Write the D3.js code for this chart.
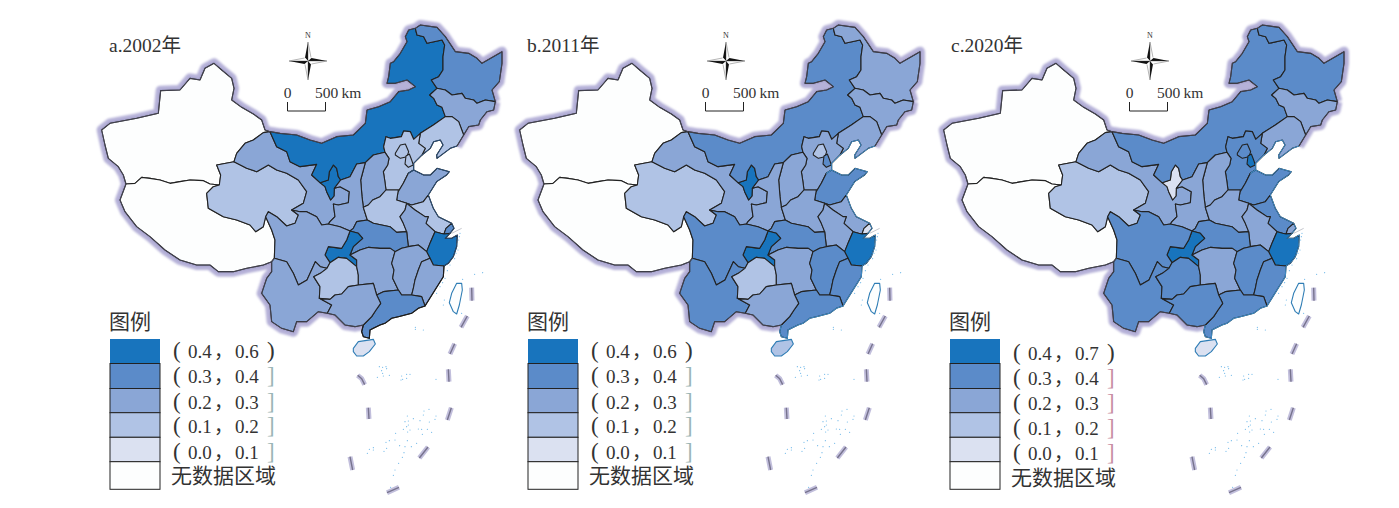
<!DOCTYPE html>
<html>
<head>
<meta charset="utf-8">
<script src="https://cdn.jsdelivr.net/npm/d3@7"></script>
<style>
  html, body { margin: 0; background: #fff; }
  text { font-family: "Liberation Serif", "Noto Sans CJK SC", serif; fill: #333; }
</style>
</head>
<body>
<div id="chart"></div>
<script>
// Province values read from the three maps (null = no data)
const provinces = ['XJ', 'TB', 'QH', 'GS', 'NX', 'IM', 'HL', 'JL', 'LN', 'HE', 'SX', 'SN', 'SD', 'HA', 'JS', 'SH', 'AH', 'ZJ', 'HB', 'CQ', 'SC', 'YN', 'GZ', 'HN', 'JX', 'FJ', 'GD', 'GX', 'HI', 'TW', 'BJ', 'TJ'];
const values2002 = [null, null, 0.15, 0.25, 0.5, 0.5, 0.35, 0.25, 0.15, 0.15, 0.25, 0.25, 0.25, 0.15, 0.15, 0.35, 0.25, 0.5, 0.35, 0.5, 0.25, 0.25, 0.15, 0.25, 0.25, 0.25, 0.35, 0.25, 0.05, null, 0.15, 0.15];
const values2011 = [null, null, 0.15, 0.25, 0.5, 0.35, 0.25, 0.25, 0.25, 0.25, 0.25, 0.25, 0.35, 0.25, 0.25, 0.05, 0.25, 0.5, 0.35, 0.5, 0.35, 0.35, 0.15, 0.25, 0.35, 0.35, 0.35, 0.25, 0.15, null, 0.15, 0.35];
const values2020 = [null, null, 0.15, 0.25, 0.05, 0.35, 0.35, 0.25, 0.25, 0.35, 0.25, 0.25, 0.35, 0.25, 0.35, 0.25, 0.25, 0.55, 0.35, 0.55, 0.35, 0.35, 0.35, 0.25, 0.35, 0.35, 0.35, 0.35, 0.05, null, 0.35, 0.55];

const panelTitles = ['a.2002年', 'b.2011年', 'c.2020年'];
const panelSeries = [values2002, values2011, values2020];
const panelOffsets = [0, 418, 842];
const legendOffsets = [0, 418, 840];
const legendTextShift = [0, 0, 1.5];
const breaks = [0.1, 0.2, 0.3, 0.4];
const classColors = ['#dbe1f1', '#b0c3e5', '#8aa6d6', '#5b8bc9', '#1874bd'];
const legendLows = ['0.4', '0.3', '0.2', '0.1', '0.0'];
const legendHighs = [['0.6', '0.4', '0.3', '0.2', '0.1'], ['0.6', '0.4', '0.3', '0.2', '0.1'], ['0.7', '0.4', '0.3', '0.2', '0.1']];
const bracketColors = ['#9bb5b5', '#9bb5b5', '#c88ea3'];
const coastColors = ['#2a4f78', '#3d8ac4', '#3d8ac4'];
const coastSouthColors = ['#1c1c1c', '#3d8ac4', '#3d8ac4'];

// Map-grid geometry shared by the panels, arcs between border junctions
const arcs = {
  xj_n: [[540,335],[525,330],[515,300],[490,282],[455,262],[425,240],[432,205],[425,175],[395,150],[372,130],[345,145],[330,180],[300,175],[270,210],[212,212],[205,280],[140,295],[60,310],[35,330],[45,375],[55,415],[85,440],[100,465],[108,492]],
  xj_tb: [[108,492],[135,490],[155,472],[180,475],[210,480],[240,490],[270,485],[300,480],[340,482],[360,492],[388,495]],
  xj_qh: [[388,495],[392,465],[380,435],[432,425]],
  xj_gs: [[432,425],[440,400],[465,370],[490,360],[520,338],[540,335]],
  tb_s: [[108,492],[90,540],[105,575],[140,620],[180,650],[225,690],[270,720],[320,735],[360,735],[385,755],[430,755],[470,745],[520,735],[545,725],[553,715]],
  tb_sc: [[553,715],[555,660],[545,630],[527,590]],
  tb_qh: [[527,590],[520,620],[497,635],[480,615],[440,600],[400,590],[355,565],[350,520],[370,500],[388,495]],
  qh_gs: [[432,425],[470,445],[500,455],[535,435],[560,450],[590,460],[625,480],[650,515],[640,550],[605,570]],
  qh_sc: [[605,570],[625,585],[615,610],[590,618],[560,590],[535,575],[527,590]],
  gs_sc: [[605,570],[630,575],[650,575],[680,590],[695,615],[715,612]],
  gs_im: [[540,335],[560,380],[590,395],[600,425],[630,440],[680,433],[665,465],[690,488]],
  gs_nx1: [[690,488],[705,500],[710,515],[722,540]],
  gs_nx2: [[722,540],[732,528],[733,505]],
  gs_sn: [[733,505],[750,500],[778,515],[775,548],[745,555],[730,552],[735,590],[720,605],[715,612]],
  nx_im: [[690,488],[715,480],[718,455],[730,435],[740,445],[745,470],[752,480]],
  nx_sn: [[752,480],[733,505]],
  im_n: [[540,335],[570,340],[620,345],[660,360],[695,370],[740,350],[790,345],[826,310],[831,270],[866,260],[901,245],[926,215],[956,210],[976,200],[951,180],[916,190],[891,190],[896,170],[901,130],[911,125],[931,100],[951,65],[946,50],[956,30],[976,25]],
  im_hl: [[976,25],[981,45],[1001,50],[1011,70],[1056,60],[1064,75],[1059,110],[1059,150],[1046,170],[1024,180],[1041,205]],
  im_jl: [[1041,205],[1019,225],[1031,235],[1041,255],[1056,262],[1066,290]],
  hl_land: [[976,25],[991,15],[1041,22],[1066,50],[1096,95],[1136,100],[1161,115],[1176,130],[1236,95],[1236,130],[1228,185],[1206,210],[1216,245]],
  jl_hl: [[1041,205],[1066,210],[1086,225],[1116,220],[1126,235],[1151,240],[1161,250],[1186,240],[1216,245]],
  jl_land: [[1216,245],[1211,270],[1191,275],[1171,300],[1166,315],[1136,320],[1121,345]],
  jl_ln: [[1066,290],[1086,290],[1106,305],[1121,345]],
  ln_land: [[1121,345],[1101,378]],
  ln_coast: [[1101,378],[1081,385],[1061,400],[1041,415],[1040,405],[1059,375],[1051,360],[1031,365],[1021,385],[996,405]],
  im_ln: [[1066,290],[1030,315],[991,340]],
  he_ln: [[991,340],[986,370],[1006,385],[996,405]],
  im_he: [[991,340],[971,358],[961,335],[941,333],[934,350],[901,355],[888,350],[881,380],[885,397]],
  im_sx: [[885,397],[850,405],[826,428]],
  im_sn: [[826,428],[800,432],[780,470],[752,480]],
  sn_sx: [[826,428],[820,450],[812,480],[816,530],[820,562]],
  sx_he: [[885,397],[897,415],[893,435],[880,455],[884,480],[888,510]],
  sx_ha: [[888,510],[870,530],[848,540],[835,555],[820,562]],
  he_ha: [[888,510],[925,510]],
  he_sd: [[925,510],[922,520],[940,490],[955,460]],
  he_coast: [[955,460],[971,450],[971,430],[996,405]],
  sd_coast: [[955,460],[971,450],[1001,465],[1021,465],[1041,445],[1078,455],[1070,465],[1040,485],[1015,525]],
  sd_ha: [[925,510],[920,540],[950,550]],
  sd_js: [[950,550],[965,555],[1000,545],[1015,525]],
  sn_ha: [[820,562],[832,600]],
  sn_hb: [[832,600],[800,605],[790,625],[780,633]],
  sn_sc: [[715,612],[750,620],[780,633]],
  ha_hb: [[832,600],[850,610],[875,615],[900,620],[920,637],[950,635]],
  ha_ah: [[950,550],[945,570],[930,590],[940,610],[950,635]],
  ah_hb: [[950,635],[955,680]],
  ah_js: [[950,550],[975,570],[1005,590],[1015,590],[1008,610],[1035,635]],
  ah_zj: [[1035,635],[1022,665],[1010,695]],
  ah_jx: [[955,680],[985,675],[1010,695]],
  hb_jx: [[955,680],[935,685],[915,695]],
  hb_cq: [[780,633],[805,640],[818,655],[790,680],[780,705]],
  hb_hn: [[780,705],[810,690],[836,682],[870,685],[901,685],[915,695]],
  cq_hn: [[780,705],[800,720],[800,740]],
  cq_gz: [[800,740],[770,715],[745,712],[720,728]],
  cq_sc: [[780,633],[770,660],[755,685],[715,680],[705,705],[720,728]],
  sc_gz: [[720,728],[711,745]],
  yn_sc: [[553,715],[590,725],[610,760],[625,795],[651,780],[676,725],[691,740],[711,745]],
  gz_yn: [[711,745],[691,760],[671,770],[690,800],[688,835]],
  gz_gx: [[688,835],[720,838],[735,825],[755,822],[775,800],[805,795]],
  gz_hn: [[800,740],[805,765],[805,795]],
  hn_gx: [[805,795],[850,790],[860,825]],
  hn_gd: [[860,825],[880,815],[925,810]],
  hn_jx: [[915,695],[905,730],[912,750],[908,775],[925,810]],
  jx_gd: [[925,810],[935,825],[965,825]],
  jx_fj: [[1020,715],[995,725],[985,750],[975,780],[970,805],[965,825]],
  jx_zj: [[1010,695],[1020,715]],
  zj_fj: [[1020,715],[1030,735],[1062,738]],
  fj_coast: [[1062,738],[1060,770],[1035,810],[1005,858]],
  fj_gd: [[965,825],[995,830],[1005,858]],
  gd_gx: [[860,825],[872,850],[858,870],[845,890],[820,915]],
  gd_coast: [[1005,858],[985,865],[965,880],[945,885],[925,890],[905,895],[885,910],[870,915],[850,925],[840,930],[838,955],[820,950],[815,935],[820,915]],
  gx_coast: [[820,915],[795,920],[765,915],[735,885],[712,880]],
  gx_yn: [[688,835],[725,855],[712,880]],
  yn_land: [[553,715],[545,725],[545,755],[530,775],[515,820],[540,855],[545,905],[575,925],[610,935],[620,905],[650,905],[685,875],[712,880]],
  js_coast: [[1015,525],[1030,565],[1045,590],[1085,610]],
  js_sh: [[1085,610],[1068,625],[1062,642]],
  js_zj: [[1035,635],[1052,640],[1062,642]],
  sh_zj: [[1062,642],[1080,640]],
  sh_coast: [[1085,610],[1092,625],[1080,640]],
  zj_coast: [[1080,640],[1066,655],[1085,655],[1102,645],[1100,680],[1090,710],[1075,730],[1062,738]],
  hi_ring: [[790,985],[805,965],[825,962],[850,958],[856,972],[838,995],[820,1008],[800,1008],[790,995],[790,985]],
  tw_ring: [[1100,790],[1115,790],[1117,810],[1108,855],[1100,882],[1090,875],[1078,848],[1085,820],[1100,790]],
  bj_ring: [[916,400],[931,375],[946,372],[956,395],[951,410],[931,415],[916,405],[916,400]],
  tj_ring: [[948,408],[958,402],[965,420],[970,435],[955,442],[945,432],[948,408]]
};

const provinceArcs = {
  XJ: ['xj_n', 'xj_tb', 'xj_qh', 'xj_gs'],
  TB: ['tb_s', 'tb_sc', 'tb_qh', '-xj_tb'],
  QH: ['-xj_qh', '-tb_qh', '-qh_sc', '-qh_gs'],
  GS: ['gs_im', 'gs_nx1', 'gs_nx2', 'gs_sn', '-gs_sc', '-qh_gs', 'xj_gs'],
  NX: ['nx_im', 'nx_sn', '-gs_nx2', '-gs_nx1'],
  IM: ['im_n', 'im_hl', 'im_jl', 'im_ln', 'im_he', 'im_sx', 'im_sn', '-nx_im', '-gs_im'],
  HL: ['hl_land', '-jl_hl', '-im_hl'],
  JL: ['jl_hl', 'jl_land', '-jl_ln', '-im_jl'],
  LN: ['jl_ln', 'ln_land', 'ln_coast', '-he_ln', '-im_ln'],
  HE: ['-im_he', 'he_ln', '-he_coast', '-he_sd', '-he_ha', '-sx_he'],
  SX: ['-im_sx', 'sx_he', 'sx_ha', '-sn_sx'],
  SN: ['-im_sn', 'sn_sx', 'sn_ha', 'sn_hb', '-sn_sc', '-gs_sn', '-nx_sn'],
  SD: ['he_sd', 'sd_coast', '-sd_js', '-sd_ha'],
  HA: ['he_ha', 'sd_ha', 'ha_ah', '-ha_hb', '-sn_ha', '-sx_ha'],
  JS: ['sd_js', 'js_coast', 'js_sh', '-js_zj', '-ah_js'],
  SH: ['js_sh', 'sh_zj', '-sh_coast'],
  AH: ['ah_js', 'ah_zj', '-ah_jx', '-ah_hb', '-ha_ah'],
  ZJ: ['js_zj', 'sh_zj', 'zj_coast', '-zj_fj', '-jx_zj', '-ah_zj'],
  HB: ['ha_hb', 'ah_hb', 'hb_jx', '-hb_hn', '-hb_cq', '-sn_hb'],
  CQ: ['hb_cq', 'cq_hn', 'cq_gz', '-cq_sc'],
  SC: ['-qh_sc', 'gs_sc', 'sn_sc', 'cq_sc', 'sc_gz', '-yn_sc', 'tb_sc'],
  YN: ['yn_sc', 'gz_yn', 'gx_yn', '-yn_land'],
  GZ: ['-sc_gz', '-cq_gz', 'gz_hn', '-gz_gx', '-gz_yn'],
  HN: ['hb_hn', 'hn_jx', '-hn_gd', '-hn_gx', '-gz_hn', '-cq_hn'],
  JX: ['ah_jx', 'jx_zj', 'jx_fj', '-jx_gd', '-hn_jx', '-hb_jx'],
  FJ: ['zj_fj', 'fj_coast', '-fj_gd', '-jx_fj'],
  GD: ['jx_gd', 'fj_gd', 'gd_coast', '-gd_gx', 'hn_gd'],
  GX: ['gz_gx', 'hn_gx', 'gd_gx', 'gx_coast', '-gx_yn'],
  HI: ['hi_ring'],
  TW: ['tw_ring'],
  BJ: ['bj_ring'],
  TJ: ['tj_ring']
};

const landArcs = ['xj_n', 'tb_s', 'yn_land', 'gx_coast', 'im_n', 'hl_land', 'jl_land', 'ln_land'];
const northCoastArcs = ['ln_coast', 'he_coast', 'sd_coast', 'js_coast', 'sh_coast', 'zj_coast'];
const southCoastArcs = ['fj_coast', 'gd_coast'];
const islandOutlines = ['HI', 'TW'];

const bayLine = [[[1085,640],[1115,625]]];
const dashes = [
  [[1145,803],[1146,842]], [[1132,888],[1113,922]], [[1094,971],[1080,1002]], [[1075,1048],[1077,1085]],
  [[1084,1163],[1072,1200]], [[1014,1281],[988,1314]], [[927,1402],[891,1418]], [[780,1310],[788,1350]],
  [[835,1163],[837,1197]], [[803,1066],[815,1076],[824,1094]]
];
const islandDots = [[868,1040],[878,1042],[888,1040],[890,1046],[875,1052],[878,1060],[898,1066],[862,1072],[880,1068],[935,1068],[950,1063],[960,1063],[938,1078],[950,1075],[933,1080],[1038,1078],[1017,1168],[1002,1173],[1000,1185],[1038,1188],[990,1202],[1018,1206],[1035,1198],[952,1188],[945,1205],[955,1203],[970,1196],[955,1215],[950,1220],[940,1228],[960,1230],[953,1236],[985,1227],[995,1228],[1012,1228],[1025,1237],[997,1243],[917,1240],[898,1262],[915,1260],[888,1267],[952,1262],[929,1277],[945,1280],[964,1280],[980,1270],[850,1283],[838,1288],[850,1290],[832,1300],[882,1294],[890,1285],[942,1298],[937,1312],[926,1330],[915,1350],[910,1366],[902,1402],[976,922],[976,928],[1000,930],[1118,778],[1154,763],[1178,758],[1063,840],[1060,855],[1115,880],[1102,672],[1106,660],[1110,640],[1098,700],[1080,735],[1065,775],[1050,800],[1104,690],[1108,650],[1094,716],[1072,752],[1058,788],[1040,820]];

const compassNeedle = [[0, 0], [-3, -3.5], [0, -19], [3, -3.5]];
const scaleKm = d3.scaleLinear().domain([0, 500]).range([0, 38]);

const colorScale = d3.scaleThreshold().domain(breaks).range(classColors);

function arcPoints(name) {
  return name[0] === '-' ? arcs[name.slice(1)].slice().reverse() : arcs[name];
}
function ringOf(list) {
  const ring = [];
  list.forEach((name, i) => {
    const pts = arcPoints(name);
    ring.push(...(i === 0 ? pts : pts.slice(1)));
  });
  return ring;
}
function lines(names) {
  return { type: 'MultiLineString', coordinates: names.map(arcPoints) };
}

const svg = d3.select('#chart').append('svg').attr('width', 1399).attr('height', 508);

const blur = svg.append('defs').append('filter').attr('id', 'halo')
  .attr('x', '-5%').attr('y', '-5%').attr('width', '110%').attr('height', '110%');
blur.append('feGaussianBlur').attr('stdDeviation', 1.3);

const seaLine = { type: 'MultiLineString', coordinates: dashes };

const features = provinces.map((id) => ({
  type: 'Feature',
  id: id,
  geometry: { type: 'Polygon', coordinates: [ringOf(provinceArcs[id])] }
}));

panelTitles.forEach((title, p) => {
  const dx = panelOffsets[p];
  const g = svg.append('g');
  const projection = d3.geoIdentity().scale(1 / 3).translate([90 + dx, 20]);
  const path = d3.geoPath(projection);

  // Purple glow along the land frontier and the sea dashes
  g.append('path').datum(lines(landArcs)).attr('d', path)
    .attr('fill', 'none').attr('stroke', '#b5b1d8').attr('stroke-width', 10)
    .attr('stroke-linejoin', 'round').attr('filter', 'url(#halo)');
  g.append('path').datum(lines(landArcs)).attr('d', path)
    .attr('fill', 'none').attr('stroke', '#aaa6cf').attr('stroke-width', 3.5)
    .attr('stroke-linejoin', 'round');
  g.append('path').datum(seaLine).attr('d', path)
    .attr('fill', 'none').attr('stroke', '#c2bfdc').attr('stroke-width', 5);
  g.append('path').datum(seaLine).attr('d', path)
    .attr('fill', 'none').attr('stroke', '#77738e').attr('stroke-width', 1.4);

  g.selectAll('path.province').data(features).enter().append('path')
    .attr('class', 'province')
    .attr('d', path)
    .attr('fill', (d, i) => {
      const v = panelSeries[p][i];
      return v === null ? '#fdfefe' : colorScale(v);
    })
    .attr('stroke', (d) => (islandOutlines.includes(d.id) ? '#2f7db5' : '#222'))
    .attr('stroke-width', 1.1)
    .attr('stroke-linejoin', 'round');

  g.append('path').datum(lines(northCoastArcs)).attr('d', path)
    .attr('fill', 'none').attr('stroke', coastColors[p]).attr('stroke-width', 1);
  g.append('path').datum(lines(southCoastArcs)).attr('d', path)
    .attr('fill', 'none').attr('stroke', coastSouthColors[p]).attr('stroke-width', 1.1);
  g.append('path').datum(lines(landArcs)).attr('d', path)
    .attr('fill', 'none').attr('stroke', '#4a4a5a').attr('stroke-width', 0.8);
  g.append('path').datum({ type: 'MultiLineString', coordinates: bayLine }).attr('d', path)
    .attr('fill', 'none').attr('stroke', '#8a8f9a').attr('stroke-width', 0.5);

  g.append('path').datum({ type: 'MultiPoint', coordinates: islandDots })
    .attr('d', path.pointRadius(0.55)).attr('fill', '#5fb0e6');

  g.append('text').attr('x', 109 + dx).attr('y', 52).attr('font-size', 19.5).text(title);

  // North arrow
  const compass = g.append('g').attr('transform', `translate(${308 + dx},61)`);
  [0, 90, 180, 270].forEach((angle) => {
    const needle = compass.append('g').attr('transform', `rotate(${angle})`);
    needle.append('path').attr('d', d3.line()(compassNeedle.slice(0, 3))).attr('fill', '#111');
    needle.append('path').attr('d', d3.line()([compassNeedle[0], compassNeedle[2], compassNeedle[3]]))
      .attr('fill', '#fff').attr('stroke', '#444').attr('stroke-width', 0.4);
  });
  g.append('text').attr('x', 308 + dx).attr('y', 38).attr('text-anchor', 'middle').attr('font-size', 8).text('N');

  // Scale bar
  const sx = 287.5 + dx;
  g.append('path')
    .attr('d', d3.line()([[scaleKm(0), -9], [scaleKm(0), 0], [scaleKm(500), 0], [scaleKm(500), -9]]))
    .attr('transform', `translate(${sx},111)`)
    .attr('fill', 'none').attr('stroke', '#222').attr('stroke-width', 1);
  g.append('text').attr('x', sx).attr('y', 98).attr('text-anchor', 'middle').attr('font-size', 15.5).text('0');
  g.append('text').attr('x', sx + 27.5).attr('y', 98).attr('font-size', 15.5).text('500');
  g.append('text').attr('x', sx + 54).attr('y', 98).attr('font-size', 15.5).text('km');

  // Legend
  const lx = 110 + legendOffsets[p];
  const rowTops = [339, 363.5, 388.5, 412.7, 437.3, 461.7, 489.3];
  const rowBase = [358, 383, 408.5, 433, 458.5];
  const shift = legendTextShift[p];
  g.append('text').attr('x', lx - 1).attr('y', 329).attr('font-size', 21).text('图例');
  const legendFills = classColors.slice().reverse().concat('#fdfefe');
  legendFills.forEach((c, i) => {
    g.append('rect').attr('x', lx).attr('y', rowTops[i]).attr('width', 50)
      .attr('height', rowTops[i + 1] - rowTops[i])
      .attr('fill', c).attr('stroke', i === 0 ? 'none' : '#222').attr('stroke-width', 1);
  });
  legendLows.forEach((low, i) => {
    const y = rowBase[i] + shift;
    g.append('text').attr('x', lx + 63).attr('y', y).attr('font-size', 23).text('(');
    g.append('text').attr('x', lx + 78).attr('y', y).attr('font-size', 19).text(low);
    g.append('text').attr('x', lx + 104).attr('y', y).attr('font-size', 19).text('，');
    g.append('text').attr('x', lx + 125).attr('y', y).attr('font-size', 19).text(legendHighs[p][i]);
    g.append('text').attr('x', lx + 157).attr('y', y).attr('font-size', 23)
      .style('fill', i === 0 ? '#333' : bracketColors[p])
      .text(i === 0 ? ')' : ']');
  });
  g.append('text').attr('x', lx + 61).attr('y', 483 + shift).attr('font-size', 21).text('无数据区域');
});
</script>
</body>
</html>
